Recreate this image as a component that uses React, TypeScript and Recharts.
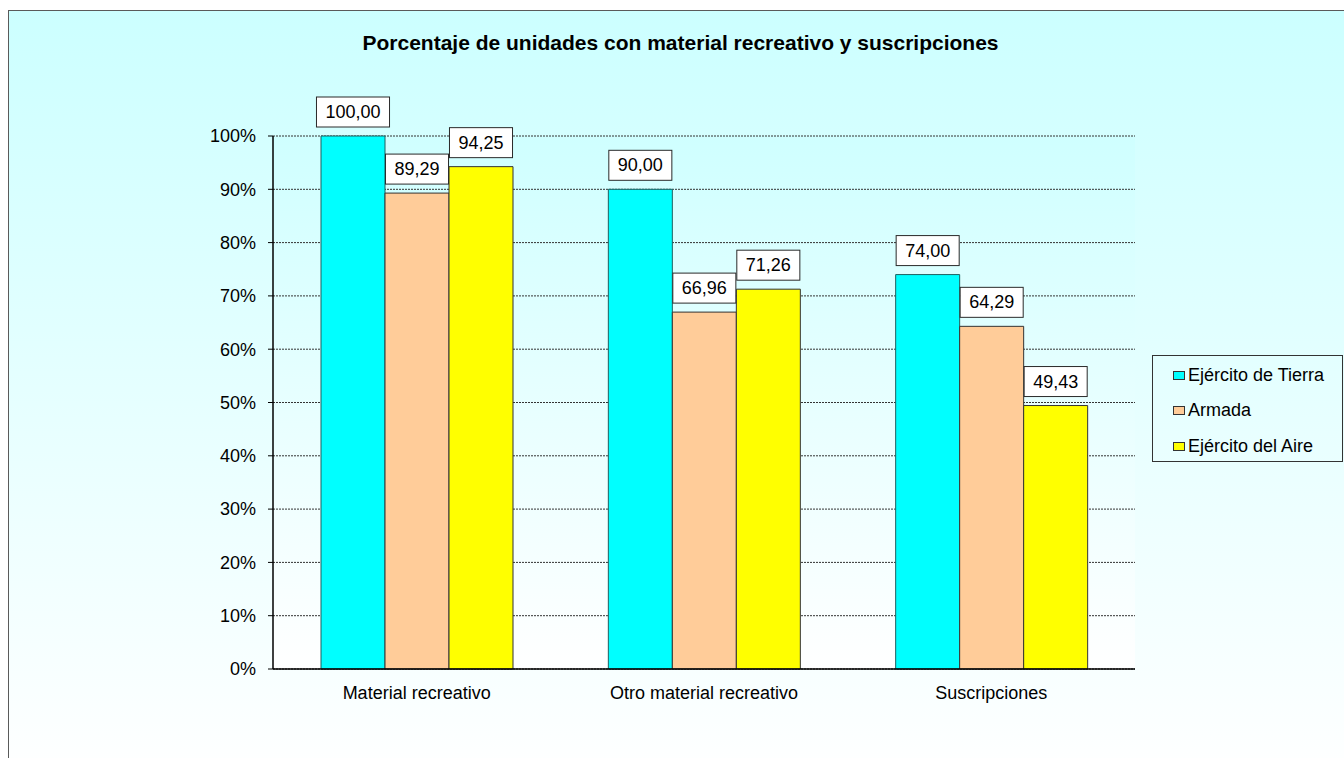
import React from 'react';
import { BarChart, Bar, XAxis, YAxis, CartesianGrid, LabelList, Legend } from 'recharts';

const categories = ['Material recreativo', 'Otro material recreativo', 'Suscripciones'];
const tierra = [100.0, 90.0, 74.0];
const armada = [89.29, 66.96, 64.29];
const aire = [94.25, 71.26, 49.43];
const yTicks = [0, 10, 20, 30, 40, 50, 60, 70, 80, 90, 100];
const seriesNames = ['Ejército de Tierra', 'Armada', 'Ejército del Aire'];
const seriesKeys = ['tierra', 'armada', 'aire'];
const seriesFills = ['#00FFFF', '#FFCC99', '#FFFF00'];
const seriesStrokes = ['#1f5f5f', '#333333', '#333333'];
const title = 'Porcentaje de unidades con material recreativo y suscripciones';

const data = categories.map((c, i) => ({ name: c, tierra: tierra[i], armada: armada[i], aire: aire[i] }));

const FONT = '"Liberation Sans", Arial, sans-serif';

const fmt = (v: number) => Number(v).toFixed(2).replace('.', ',');

const measure = (s: string, size: number) => {
  let w = 0;
  for (const ch of s) {
    if (ch === ',' || ch === '.') w += 0.278;
    else w += 0.556;
  }
  return w * size;
};

const ValueBox = (props: any) => {
  const x = Number(props.x);
  const y = Number(props.y);
  const width = Number(props.width);
  const s = fmt(props.value);
  const w = measure(s, 18) + 18;
  const cx = x + width / 2;
  const bottom = y - 9;
  return (
    <g>
      <rect x={cx - w / 2} y={bottom - 30} width={w} height={30} fill="#FFFFFF" stroke="#2a2a2a" strokeWidth={1} />
      <text x={cx} y={bottom - 15} textAnchor="middle" dominantBaseline="central" fontSize={18} fontFamily={FONT} fill="#000">
        {s}
      </text>
    </g>
  );
};

const LegendBox = () => (
  <div
    style={{
      border: '1px solid #333',
      boxSizing: 'border-box',
      width: 191,
      height: 107,
      fontFamily: FONT,
      fontSize: 18,
      color: '#000',
      position: 'relative',
    }}
  >
    {seriesNames.map((n, i) => (
      <div key={n} style={{ position: 'absolute', left: 20, top: 8 + i * 35.5, height: 22, display: 'flex', alignItems: 'center', whiteSpace: 'nowrap' }}>
        <span style={{ display: 'inline-block', width: 10, height: 7, background: seriesFills[i], border: '1px solid #333', marginRight: 3 }} />
        <span>{n}</span>
      </div>
    ))}
  </div>
);

export default function App() {
  return (
    <div style={{ position: 'absolute', left: 0, top: 0, width: 1344, height: 758, overflow: 'hidden', background: '#fff' }}>
      <div
        style={{
          position: 'absolute',
          left: 8,
          top: 10,
          width: 1400,
          height: 800,
          border: '1px solid #5a5a5a',
          background: 'linear-gradient(to bottom, #CCFFFF 0px, #FFFFFF 770px)',
        }}
      />
      <div
        style={{
          position: 'absolute',
          left: 0,
          width: 1361,
          top: 30,
          textAlign: 'center',
          fontFamily: FONT,
          fontWeight: 'bold',
          fontSize: 21,
          color: '#000',
          lineHeight: '26px',
        }}
      >
        {title}
      </div>
      <div style={{ position: 'absolute', left: 0, top: 0 }}>
        <BarChart
          width={1344}
          height={758}
          data={data}
          margin={{ top: 136, right: 209, bottom: 59, left: 0 }}
          barGap={0}
          barSize={64}
        >
          <defs>
            <linearGradient id="plotGrad" x1="0" y1="0" x2="0" y2="1">
              <stop offset="0%" stopColor="#CFFFFF" />
              <stop offset="100%" stopColor="#FFFFFF" />
            </linearGradient>
          </defs>
          <CartesianGrid
            vertical={false}
            horizontal={true}
            stroke="#333333"
            strokeDasharray="2 1"
            fill="url(#plotGrad)"
            fillOpacity={1}
          />
          <XAxis
            dataKey="name"
            height={30}
            axisLine={{ stroke: '#000', strokeWidth: 1.5 }}
            tickLine={false}
            tickSize={0}
            tickMargin={17}
            tick={{ fontSize: 18, fontFamily: FONT, fill: '#000' }}
            interval={0}
          />
          <YAxis
            domain={[0, 100]}
            ticks={yTicks}
            interval={0}
            width={273}
            tickFormatter={(v: number) => `${v}%`}
            axisLine={{ stroke: '#000', strokeWidth: 1.5 }}
            tickLine={{ stroke: '#000' }}
            tickSize={5}
            tickMargin={12}
            tick={{ fontSize: 18, fontFamily: FONT, fill: '#000' }}
          />
          <YAxis
            yAxisId="r"
            orientation="right"
            domain={[0, 100]}
            width={0}
            tick={false}
            tickLine={false}
            axisLine={{ stroke: '#808080', strokeWidth: 1.5 }}
          />
          <Legend
            layout="vertical"
            align="center"
            verticalAlign="middle"
            content={() => <LegendBox />}
            wrapperStyle={{ position: 'absolute', left: 1152, top: 355, width: 191, height: 107 }}
          />
          {seriesKeys.map((k, i) => (
            <Bar
              key={k}
              dataKey={k}
              name={seriesNames[i]}
              fill={seriesFills[i]}
              stroke={seriesStrokes[i]}
              strokeWidth={1}
              isAnimationActive={false}
            >
              <LabelList dataKey={k} content={ValueBox} />
            </Bar>
          ))}
        </BarChart>
      </div>
    </div>
  );
}
